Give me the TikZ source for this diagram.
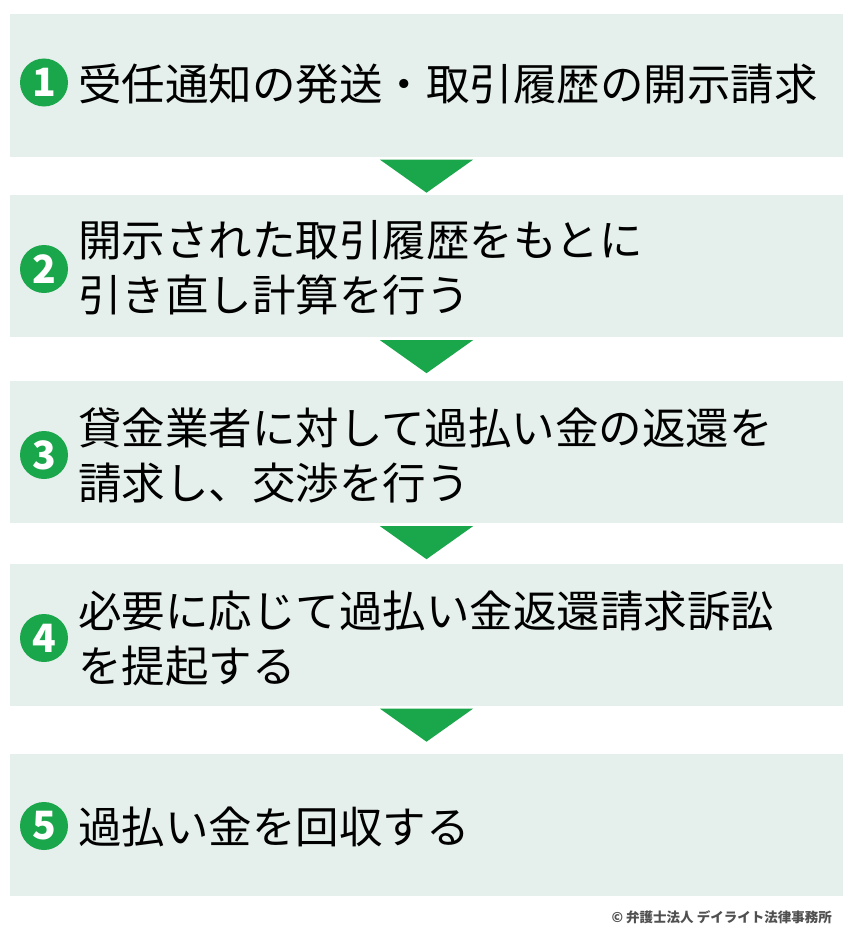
\documentclass[tikz,border=0pt]{standalone}
\usepackage{fontspec}
\setmainfont{Noto Sans CJK JP}
\usepackage{tikz}
\usetikzlibrary{positioning,calc}
\definecolor{boxmint}{HTML}{E5F0EC}
\definecolor{stepgreen}{HTML}{1AA64B}
\definecolor{creditgray}{HTML}{505050}
\tikzset{
  stepbox/.style={fill=boxmint, minimum width=833pt, minimum height=142pt, inner sep=0pt},
  stepnum/.style={circle, fill=stepgreen, minimum size=48pt, inner sep=0pt, text=white,
    font=\fontsize{39}{39}\selectfont\bfseries},
  steptext/.style={anchor=west, align=left, inner sep=0pt, font=\fontsize{43.5}{55}\selectfont},
}

\begin{document}
\begin{tikzpicture}[x=1pt, y=-1pt]
  \useasboundingbox (0,0) rectangle (850,950);
  % boxes
  \node[stepbox] (box1) at (426.5,85.5) {};
  \node[stepbox] (box2) at (426.5,266) {};
  \node[stepbox] (box3) at (426.5,452) {};
  \node[stepbox] (box4) at (426.5,634.5) {};
  \node[stepbox] (box5) at (426.5,824.5) {};
  % arrows between steps
  \foreach \i in {1,...,4}
    \fill[stepgreen] ($(box\i.south)+(-46.5,3)$) -- ($(box\i.south)+(46.5,3)$)
      -- ($(box\i.south)+(0,36)$) -- cycle;
  % numbers
  \node[stepnum] (num1) at (44,82.5) {1};
  \node[stepnum] (num2) at (44,269) {2};
  \node[stepnum] (num3) at (44,455) {3};
  \node[stepnum] (num4) at (44,638) {4};
  \node[stepnum] (num5) at (44,826) {5};
  % texts
  \node[steptext] (text1) at (78,84) {受任通知の発送・取引履歴の開示請求};
  \node[steptext] (text2) at (78,267.5) {開示された取引履歴をもとに\\引き直し計算を行う};
  \node[steptext] (text3) at (78,455) {貸金業者に対して過払い金の返還を\\請求し、交渉を行う};
  \node[steptext] (text4) at (78,639) {必要に応じて過払い金返還請求訴訟\\を提起する};
  \node[steptext] (text5) at (78,827) {過払い金を回収する};
  % credit
  \node[anchor=east, inner sep=0pt, text=creditgray, font=\fontsize{13.5}{13.5}\selectfont\bfseries]
    (credit) at (832,917) {© 弁護士法人 デイライト法律事務所};
\end{tikzpicture}
\end{document}
